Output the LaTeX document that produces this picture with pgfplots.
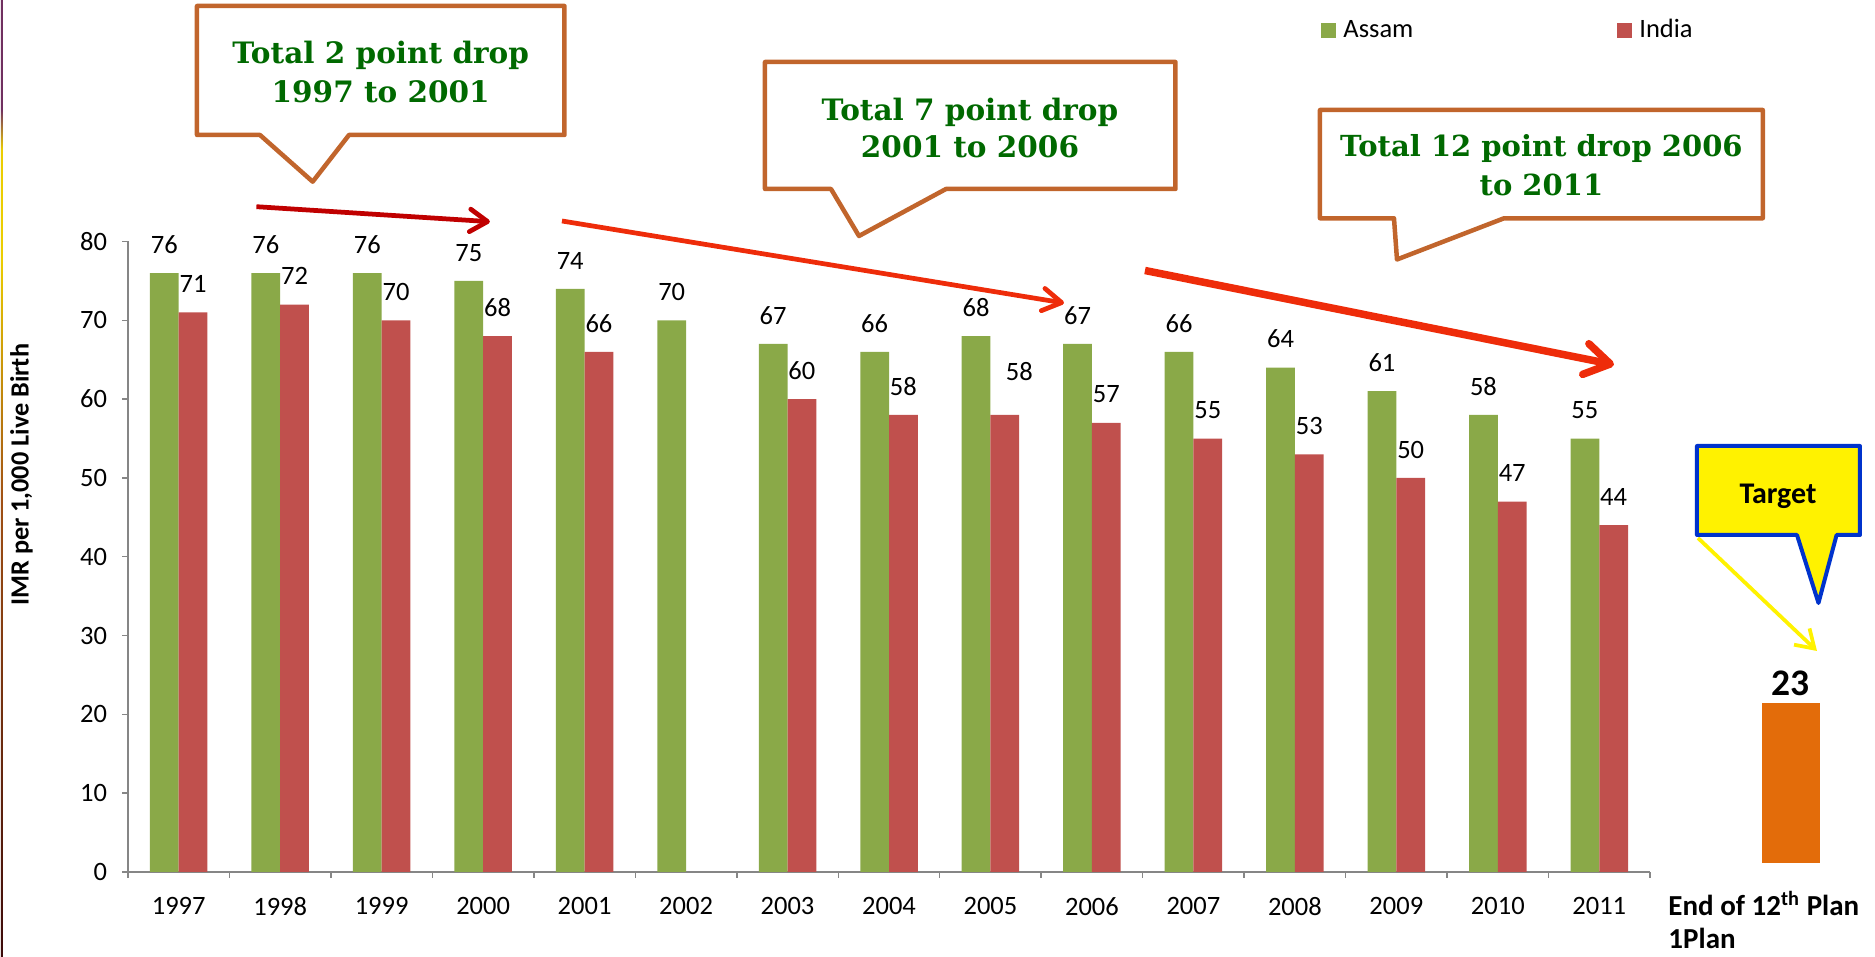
\documentclass[border=0pt]{standalone}
\usepackage{pgfplots}
\pgfplotsset{compat=1.18}
\usepackage{pgfplotstable}
\usepackage{fontspec}
\setmainfont{Carlito}
\newfontfamily\calloutfont{DejaVu Serif}
\usetikzlibrary{arrows.meta}
\definecolor{assam}{RGB}{138,169,72}
\definecolor{india}{RGB}{192,80,77}
\definecolor{target}{RGB}{227,108,10}
\definecolor{axisgray}{RGB}{134,134,134}
\definecolor{callbrown}{RGB}{193,101,44}
\definecolor{callgreen}{RGB}{0,105,0}
\definecolor{darkarrow}{RGB}{192,0,0}
\definecolor{redarrow}{RGB}{238,44,10}
\definecolor{tgtblue}{RGB}{0,51,204}
\definecolor{stripdark}{RGB}{60,10,10}
\definecolor{stripbrown}{RGB}{160,80,20}
\definecolor{stripyellow}{RGB}{235,205,0}
\definecolor{strippurple}{RGB}{112,48,96}
\pgfdeclareverticalshading{leftstrip}{0.8pt}{color(0pt)=(stripdark); color(182.8pt)=(stripbrown); color(278.8pt)=(stripyellow); color(322.8pt)=(stripyellow); color(338.8pt)=(strippurple); color(382.8pt)=(strippurple)}

\pgfplotstableread{
x assam
0 76
1 76
2 76
3 75
4 74
5 70
6 67
7 66
8 68
9 67
10 66
11 64
12 61
13 58
14 55
}\assamdata

\pgfplotstableread{
x india dx dy
0 71 0 0
1 72 0 0
2 70 0 0
3 68 0 0
4 66 0 0
6 60 0 0
7 58 0 0
8 58 5.8 5.7
9 57 0 0
10 55 0 0
11 53 0 0
12 50 0 0
13 47 0 0
14 44 0 0
}\indiadata

\begin{document}
\begin{tikzpicture}
\path[use as bounding box] (0,0) rectangle (750pt,382.8pt);
\node[anchor=south west, inner sep=0pt] at (0,0) {\pgfuseshading{leftstrip}};

\begin{axis}[
  at={(51.2pt,34pt)}, anchor=south west,
  scale only axis, width=608.8pt, height=252.2pt,
  xmin=-0.5, xmax=14.5, ymin=0, ymax=80,
  ybar=0pt, bar width=11.5pt,
  axis x line*=bottom, axis y line*=left,
  axis line style={draw=axisgray, line width=0.6pt},
  tick style={draw=axisgray, line width=0.6pt},
  major tick length=2.4pt, tick align=outside,
  xtick={-0.5,0.5,...,14.5},
  x tick label as interval,
  xticklabels={1997,1998,1999,2000,2001,2002,2003,2004,2005,2006,2007,2008,2009,2010,2011},
  ytick={0,10,...,80},
  /pgf/number format/assume math mode=true,
  tick label style={font=\fontsize{10.6}{12}\selectfont, text=black, inner sep=0pt},
  xticklabel style={yshift=-7.45pt},
  yticklabel style={xshift=-5.8pt},
  clip=false,
  ylabel={\bfseries IMR per 1,000 Live Birth},
  ylabel style={at={(axis description cs:-0.07,0.63)}, anchor=center, font=\fontsize{10.5}{12}\selectfont},
  every node near coord/.append style={font=\fontsize{10.6}{12}\selectfont, text=black, inner sep=0pt, yshift=7.65pt},
  legend columns=2,
  legend image code/.code={\fill[#1] (0pt,-3pt) rectangle (6pt,3pt);},
  legend style={draw=none, fill=none, inner sep=0pt, at={(axis description cs:0.7838,1.3347)}, anchor=west,
    font=\fontsize{10.6}{12}\selectfont, nodes={inner sep=0pt},
    /tikz/every odd column/.append style={column sep=2.8pt},
    /tikz/every even column/.append style={column sep=81.6pt}},
]
\addlegendimage{fill=assam, draw=none}
\addlegendentry{Assam}
\addlegendimage{fill=india, draw=none}
\addlegendentry{India}
\addplot[forget plot, bar shift=-5.75pt, fill=assam, draw=none, nodes near coords] table[x=x, y=assam] {\assamdata};
\addplot[forget plot, bar shift=5.75pt, fill=india, draw=none, nodes near coords,
  visualization depends on={\thisrow{dx} \as \ldx},
  visualization depends on={\thisrow{dy} \as \ldy},
  nodes near coords style={xshift=\ldx pt, yshift=\ldy pt}] table[x=x, y=india] {\indiadata};
\end{axis}

\begin{axis}[
  at={(696.3pt,37.4pt)}, anchor=south west,
  scale only axis, width=40pt, height=64.2pt,
  xmin=-1, xmax=1, ymin=0, ymax=23,
  hide axis, ybar, bar width=23.4pt, clip=false,
  /pgf/number format/assume math mode=true,
  nodes near coords,
  every node near coord/.append style={font=\bfseries\fontsize{15}{18}\selectfont, text=black, inner sep=0pt, yshift=2.5pt},
]
\addplot[fill=target, draw=none] coordinates {(0,23)};
\end{axis}

\begin{scope}[x=0.4pt, y=-0.4pt, shift={(0pt,382.8pt)}]
  % arrows
  \draw[darkarrow, line width=1.9pt, -{Straight Barb[length=7pt, width=9pt, round]}] (256.4,206.7) -- (489.9,221.7);
  \draw[redarrow, line width=1.9pt, -{Straight Barb[length=7.5pt, width=9pt, round]}] (562,221) -- (1064,303);
  \draw[redarrow, line width=3pt, -{Straight Barb[length=10pt, width=12.5pt, round]}] (1145,270.5) -- (1614,364.7);
  \draw[yellow, line width=1.5pt, -{Straight Barb[length=7pt, width=9pt]}] (1698,538) -- (1817,651);
  % callout 1
  \draw[callbrown, line width=1.8pt, fill=white, line join=round] (197,6) -- (564.5,6) -- (564.5,135) -- (349,135) -- (312.7,181.7) -- (260,135) -- (197,135) -- cycle;
  \begin{scope}[every node/.style={anchor=base, text=callgreen, inner sep=0pt, font=\calloutfont\bfseries\fontsize{11.8}{14}\selectfont}]
    \node at (380.7,63.5) {Total 2 point drop};
    \node at (380.7,102.5) {1997 to 2001};
  \end{scope}
  % callout 2
  \draw[callbrown, line width=1.8pt, fill=white, line join=round] (765,62) -- (1175.5,62) -- (1175.5,189) -- (946,189) -- (859,236) -- (831,189) -- (765,189) -- cycle;
  \begin{scope}[every node/.style={anchor=base, text=callgreen, inner sep=0pt, font=\calloutfont\bfseries\fontsize{11.8}{14}\selectfont}]
    \node at (970,120.5) {Total 7 point drop};
    \node at (970,157.5) {2001 to 2006};
  \end{scope}
  % callout 3
  \draw[callbrown, line width=1.8pt, fill=white, line join=round] (1320,110) -- (1762.8,110) -- (1762.8,218.3) -- (1504,218.3) -- (1397,259.5) -- (1394,218.3) -- (1320,218.3) -- cycle;
  \begin{scope}[every node/.style={anchor=base, text=callgreen, inner sep=0pt, font=\calloutfont\bfseries\fontsize{11.6}{14}\selectfont}]
    \node at (1541.4,157) {Total 12 point drop 2006};
    \node at (1541.4,195.5) {to 2011};
  \end{scope}
  % target callout
  \draw[tgtblue, line width=1.6pt, fill=yellow, line join=round] (1697,446) -- (1860,446) -- (1860,535) -- (1836.6,535) -- (1818.5,603) -- (1797,535) -- (1697,535) -- cycle;
  \node[anchor=base, inner sep=0pt, font=\bfseries\fontsize{12}{14}\selectfont] at (1778,503.3) {Target};
  % end of plan label
  \node[anchor=base west, inner sep=0pt, font=\bfseries\fontsize{11.6}{14}\selectfont] at (1668,916) {End of 12\textsuperscript{th} Plan};
  \node[anchor=base west, inner sep=0pt, font=\bfseries\fontsize{11.6}{14}\selectfont] at (1668,948.6) {1Plan};
\end{scope}
\end{tikzpicture}
\end{document}
